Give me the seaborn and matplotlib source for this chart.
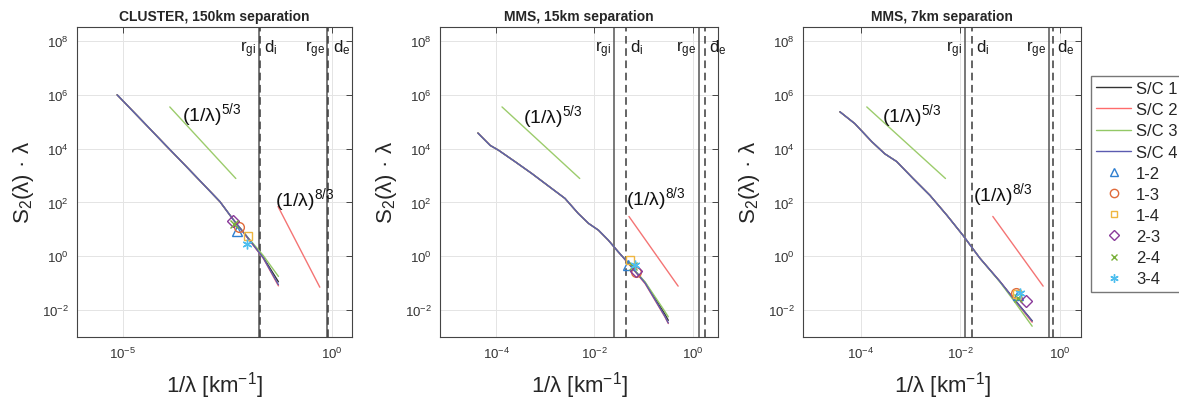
import numpy as np
import pandas as pd
import matplotlib
matplotlib.use("Agg")
import matplotlib.pyplot as plt
from matplotlib.lines import Line2D
from matplotlib.ticker import FixedLocator, LogFormatterMathtext, NullLocator
import seaborn as sns

# ------------------------------------------------------------------
# Second-order structure functions, S2(lambda)*lambda versus 1/lambda.
# All values are log10: k = log10(1/lambda [km^-1]), s = log10(S2*lambda)
# ------------------------------------------------------------------
titles = ["CLUSTER, 150km separation", "MMS, 15km separation", "MMS, 7km separation"]
spacecraft = ["S/C 1", "S/C 2", "S/C 3", "S/C 4"]
pairs = ["1-2", "1-3", "1-4", "2-3", "2-4", "3-4"]

# CLUSTER, 150 km
cluster_k = [-5.14, -4.5, -4.0, -3.5, -3.0, -2.68, -2.37, -2.0, -1.64, -1.28]
cluster_sc1 = [6.00, 4.97, 4.16, 3.36, 2.55, 2.03, 1.38, 0.66, -0.05, -0.95]
cluster_sc2 = [6.00, 4.97, 4.16, 3.36, 2.55, 2.03, 1.38, 0.65, -0.08, -1.10]
cluster_sc3 = [6.00, 4.97, 4.16, 3.36, 2.55, 2.03, 1.38, 0.68, 0.02, -0.75]
cluster_sc4 = [6.00, 4.97, 4.16, 3.36, 2.55, 2.03, 1.38, 0.66, -0.07, -1.06]

# MMS, 15 km
mms15_k = [-4.37, -4.12, -3.95, -3.61, -3.27, -2.87, -2.60, -2.33, -2.12,
           -1.92, -1.72, -1.52, -1.31, -0.97, -0.57, -0.50]
mms15_sc1 = [4.58, 4.12, 3.94, 3.51, 3.07, 2.52, 2.15, 1.59, 1.22,
             0.97, 0.60, 0.17, -0.26, -0.98, -2.15, -2.38]
mms15_sc2 = [4.58, 4.12, 3.94, 3.51, 3.07, 2.52, 2.15, 1.59, 1.22,
             0.97, 0.60, 0.17, -0.27, -1.02, -2.25, -2.50]
mms15_sc3 = [4.58, 4.12, 3.94, 3.51, 3.07, 2.52, 2.15, 1.59, 1.22,
             0.97, 0.60, 0.17, -0.25, -0.96, -2.05, -2.25]
mms15_sc4 = [4.58, 4.12, 3.94, 3.51, 3.07, 2.52, 2.15, 1.59, 1.22,
             0.97, 0.60, 0.17, -0.26, -1.00, -2.23, -2.48]

# MMS, 7 km
mms7_k = [-4.42, -4.12, -3.78, -3.52, -3.28, -2.95, -2.61, -2.27, -1.95,
          -1.61, -1.21, -0.94, -0.56]
mms7_sc1 = [5.37, 4.93, 4.26, 3.81, 3.52, 2.89, 2.26, 1.52, 0.78,
            -0.07, -0.93, -1.55, -2.40]
mms7_sc2 = [5.37, 4.93, 4.26, 3.81, 3.52, 2.89, 2.26, 1.52, 0.78,
            -0.07, -0.93, -1.57, -2.45]
mms7_sc3 = [5.37, 4.93, 4.26, 3.81, 3.52, 2.89, 2.26, 1.52, 0.78,
            -0.07, -0.95, -1.62, -2.60]
mms7_sc4 = [5.37, 4.93, 4.26, 3.81, 3.52, 2.89, 2.26, 1.52, 0.78,
            -0.07, -0.93, -1.56, -2.41]

# Multi-spacecraft (pair) estimates: [k, s] per pair
cluster_pair_k = [-2.27, -2.22, -2.01, -2.37, -2.35, -2.03]
cluster_pair_s = [0.93, 1.07, 0.74, 1.30, 1.19, 0.44]
mms15_pair_k = [-1.32, -1.16, -1.28, -1.16, -1.22, -1.18]
mms15_pair_s = [-0.32, -0.60, -0.14, -0.55, -0.35, -0.32]
mms7_pair_k = [-0.84, -0.88, -0.86, -0.68, -0.84, -0.80]
mms7_pair_s = [-1.43, -1.37, -1.40, -1.68, -1.56, -1.37]

# Reference power laws
ref53_k = [-3.88, -2.30]
ref53_s = [5.55, 2.89]
ref83_k = [[-1.29, -0.29], [-1.30, -0.30], [-1.35, -0.34]]
ref83_s = [[1.85, -1.15], [1.48, -1.11], [1.48, -1.11]]

# Characteristic scales [km^-1]: r_gi, d_i, r_ge, d_e
scales = [[0.0178, 0.0186, 0.78, 0.82],
          [0.025, 0.044, 1.32, 1.75],
          [0.0123, 0.017, 0.60, 0.72]]
scale_labels = [r"r$_{gi}$", r"d$_i$", r"r$_{ge}$", r"d$_e$"]

# Axis ranges (log10) and decade ticks
xlims = [(-6.1, 0.48), (-5.14, 0.51), (-5.16, 0.42)]
xtick_exps = [[-5, 0], [-4, -2, 0], [-4, -2, 0]]
ylim = (-3.0, 8.52)
ytick_exps = [-2, 0, 2, 4, 6, 8]

# Annotation anchors (log10 k, log10 s)
lab53_pos = [(-3.59, 5.07), (-3.45, 5.0), (-3.58, 5.04)]
lab83_pos = [(-1.36, 1.89), (-1.36, 1.93), (-1.75, 2.07)]

# ------------------------------------------------------------------
sc_colors = ["#333333", "#ff6b6b", "#93c866", "#5b5bb0"]
pair_colors = ["#2f7fd0", "#e06a3a", "#efb640", "#8a3a9a", "#7ab03a", "#4dbeee"]
pair_markers = ["^", "o", "s", "D", "x", (6, 2, 0)]
pair_sizes = [7, 7, 6, 6, 6, 7]

sns.set_style("white")
plt.rcParams["font.family"] = ["Liberation Sans", "DejaVu Sans"]
plt.rcParams["mathtext.fontset"] = "custom"
plt.rcParams["mathtext.rm"] = "Liberation Sans"
plt.rcParams["mathtext.it"] = "Liberation Sans"
plt.rcParams["mathtext.default"] = "regular"
plt.rcParams["axes.unicode_minus"] = False

fig = plt.figure(figsize=(11.79, 4.02), dpi=100)
lefts = [77 / 1179, 440 / 1179, 803 / 1179]
widths = [275 / 1179, 278 / 1179, 278 / 1179]
bottom, height = 64 / 402, 310 / 402

curves = [
    (cluster_k, [cluster_sc1, cluster_sc2, cluster_sc3, cluster_sc4]),
    (mms15_k, [mms15_sc1, mms15_sc2, mms15_sc3, mms15_sc4]),
    (mms7_k, [mms7_sc1, mms7_sc2, mms7_sc3, mms7_sc4]),
]
pair_data = [(cluster_pair_k, cluster_pair_s), (mms15_pair_k, mms15_pair_s),
             (mms7_pair_k, mms7_pair_s)]

spine_col = "#2b2b2b"
for i in range(3):
    ax = fig.add_axes([lefts[i], bottom, widths[i], height])
    ax.set_xscale("log")
    ax.set_yscale("log")

    # grid first so everything sits on top
    ax.set_axisbelow(True)
    ax.grid(True, which="major", color="#e4e4e4", lw=0.7)

    # characteristic scales
    lab_y = 10 ** 7.6
    for j, xv in enumerate(scales[i]):
        ls = "-" if j % 2 == 0 else (0, (5, 3))
        ax.axvline(xv, color="#555555" if j % 2 == 0 else "#3a3a3a",
                   lw=1.1, ls=ls, zorder=1)
        if j % 2 == 0:
            ax.annotate(scale_labels[j], xy=(xv, lab_y), xytext=(-2, 0),
                        textcoords="offset points", ha="right", va="baseline",
                        fontsize=12, color="#1a1a1a")
        else:
            ax.annotate(scale_labels[j], xy=(xv, lab_y), xytext=(3, 0),
                        textcoords="offset points", ha="left", va="baseline",
                        fontsize=12, color="#1a1a1a")

    # reference power laws
    ref = pd.DataFrame({
        "k": np.power(10.0, ref53_k + ref83_k[i]),
        "s": np.power(10.0, ref53_s + ref83_s[i]),
        "law": ["5/3", "5/3", "8/3", "8/3"],
    })
    sns.lineplot(data=ref, x="k", y="s", hue="law",
                 palette={"5/3": "#9ccc6c", "8/3": "#f47474"},
                 estimator=None, sort=False, legend=False, lw=1.0, ax=ax)

    # single-spacecraft structure functions
    kk, ys = curves[i]
    df = pd.concat([
        pd.DataFrame({"k": np.power(10.0, kk), "s": np.power(10.0, y), "sc": name})
        for name, y in zip(spacecraft, ys)
    ])
    sns.lineplot(data=df, x="k", y="s", hue="sc",
                 palette=dict(zip(spacecraft, sc_colors)),
                 estimator=None, sort=False, legend=False, lw=1.0, ax=ax)

    # pair estimates
    pk, ps = pair_data[i]
    for j in range(len(pairs)):
        ax.plot(10 ** pk[j], 10 ** ps[j], ls="none", marker=pair_markers[j],
                ms=pair_sizes[j], mfc="none", mec=pair_colors[j], mew=1.0,
                zorder=5)

    # power-law labels
    ax.text(10 ** lab53_pos[i][0], 10 ** lab53_pos[i][1], r"(1/λ)$^{5/3}$",
            fontsize=14, ha="left", va="baseline", color="#111111")
    ax.text(10 ** lab83_pos[i][0], 10 ** lab83_pos[i][1], r"(1/λ)$^{8/3}$",
            fontsize=14, ha="left", va="baseline", color="#111111")

    ax.set_xlim(10 ** xlims[i][0], 10 ** xlims[i][1])
    ax.set_ylim(10 ** ylim[0], 10 ** ylim[1])
    ax.xaxis.set_major_locator(FixedLocator([10.0 ** e for e in xtick_exps[i]]))
    ax.yaxis.set_major_locator(FixedLocator([10.0 ** e for e in ytick_exps]))
    ax.xaxis.set_major_formatter(LogFormatterMathtext())
    ax.yaxis.set_major_formatter(LogFormatterMathtext())
    ax.xaxis.set_minor_locator(NullLocator())
    ax.yaxis.set_minor_locator(NullLocator())
    ax.tick_params(direction="in", top=True, right=True, length=4, width=0.6,
                   labelsize=9.5, labelcolor="#333333", color=spine_col, pad=6)
    for sp in ax.spines.values():
        sp.set_color("#444444")
        sp.set_linewidth(0.8)

    ax.set_title(titles[i], fontsize=10, fontweight="bold", pad=5)
    ax.set_xlabel(r"1/λ [km$^{-1}$]", fontsize=16, labelpad=6)
    ax.set_ylabel(r"S$_2$(λ) · λ", fontsize=16, labelpad=4)

# shared legend on the right
handles = [Line2D([], [], color=c, lw=1.0) for c in sc_colors]
handles += [Line2D([], [], ls="none", marker=m, ms=s - 1, mfc="none", mec=c, mew=1.0)
            for m, s, c in zip(pair_markers, pair_sizes, pair_colors)]
fig.legend(handles, spacecraft + pairs, loc="upper left",
           bbox_to_anchor=(1091 / 1179, 1 - 77 / 402), fontsize=12,
           frameon=True, fancybox=False, edgecolor="#555555",
           handlelength=2.1, handletextpad=0.3, labelspacing=0.37,
           borderpad=0.3, borderaxespad=0.0)

fig.savefig("out.png", dpi=100)
